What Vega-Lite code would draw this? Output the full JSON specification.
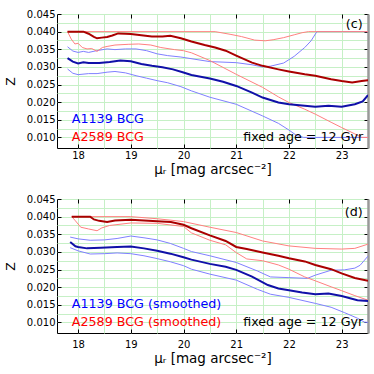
{
  "$schema": "https://vega.github.io/schema/vega-lite/v6.json",
  "padding": {"left": 4, "top": 8, "right": 5, "bottom": 5},
  "spacing": 16,
  "datasets": {
    "c": [
      {"s": "A1139 lo", "mu": 17.8, "Z": 0.0294}, {"s": "A1139 lo", "mu": 17.9, "Z": 0.0282}, {"s": "A1139 lo", "mu": 18.0, "Z": 0.0278}, {"s": "A1139 lo", "mu": 18.2, "Z": 0.0281}, {"s": "A1139 lo", "mu": 18.36, "Z": 0.0281}, {"s": "A1139 lo", "mu": 18.55, "Z": 0.0285}, {"s": "A1139 lo", "mu": 18.7, "Z": 0.0287}, {"s": "A1139 lo", "mu": 18.9, "Z": 0.0283}, {"s": "A1139 lo", "mu": 19.1, "Z": 0.0275}, {"s": "A1139 lo", "mu": 19.3, "Z": 0.0268}, {"s": "A1139 lo", "mu": 19.5, "Z": 0.0261}, {"s": "A1139 lo", "mu": 19.7, "Z": 0.0255}, {"s": "A1139 lo", "mu": 19.95, "Z": 0.0244}, {"s": "A1139 lo", "mu": 20.15, "Z": 0.0232}, {"s": "A1139 lo", "mu": 20.5, "Z": 0.0214}, {"s": "A1139 lo", "mu": 21.0, "Z": 0.0194}, {"s": "A1139 lo", "mu": 21.5, "Z": 0.0161}, {"s": "A1139 lo", "mu": 21.8, "Z": 0.0140}, {"s": "A1139 lo", "mu": 22.0, "Z": 0.0121}, {"s": "A1139 lo", "mu": 22.15, "Z": 0.0105}, {"s": "A1139 lo", "mu": 22.28, "Z": 0.0100}, {"s": "A1139 lo", "mu": 23.5, "Z": 0.0100},
      {"s": "A1139 hi", "mu": 17.8, "Z": 0.0357}, {"s": "A1139 hi", "mu": 17.9, "Z": 0.0345}, {"s": "A1139 hi", "mu": 18.0, "Z": 0.0341}, {"s": "A1139 hi", "mu": 18.1, "Z": 0.0344}, {"s": "A1139 hi", "mu": 18.2, "Z": 0.0341}, {"s": "A1139 hi", "mu": 18.35, "Z": 0.0346}, {"s": "A1139 hi", "mu": 18.55, "Z": 0.0351}, {"s": "A1139 hi", "mu": 18.7, "Z": 0.0349}, {"s": "A1139 hi", "mu": 18.9, "Z": 0.0351}, {"s": "A1139 hi", "mu": 19.1, "Z": 0.0351}, {"s": "A1139 hi", "mu": 19.3, "Z": 0.0346}, {"s": "A1139 hi", "mu": 19.5, "Z": 0.0337}, {"s": "A1139 hi", "mu": 19.7, "Z": 0.0332}, {"s": "A1139 hi", "mu": 19.95, "Z": 0.0328}, {"s": "A1139 hi", "mu": 20.2, "Z": 0.0322}, {"s": "A1139 hi", "mu": 20.5, "Z": 0.0315}, {"s": "A1139 hi", "mu": 21.0, "Z": 0.0312}, {"s": "A1139 hi", "mu": 21.3, "Z": 0.0306}, {"s": "A1139 hi", "mu": 21.5, "Z": 0.0300}, {"s": "A1139 hi", "mu": 21.65, "Z": 0.0302}, {"s": "A1139 hi", "mu": 21.9, "Z": 0.0311}, {"s": "A1139 hi", "mu": 22.1, "Z": 0.0330}, {"s": "A1139 hi", "mu": 22.3, "Z": 0.0355}, {"s": "A1139 hi", "mu": 22.42, "Z": 0.0374}, {"s": "A1139 hi", "mu": 22.53, "Z": 0.0400}, {"s": "A1139 hi", "mu": 23.5, "Z": 0.0400},
      {"s": "A2589 hi", "mu": 17.8, "Z": 0.0400}, {"s": "A2589 hi", "mu": 20.6, "Z": 0.0400}, {"s": "A2589 hi", "mu": 20.9, "Z": 0.0392}, {"s": "A2589 hi", "mu": 21.1, "Z": 0.0386}, {"s": "A2589 hi", "mu": 21.35, "Z": 0.0376}, {"s": "A2589 hi", "mu": 21.55, "Z": 0.0374}, {"s": "A2589 hi", "mu": 21.7, "Z": 0.0377}, {"s": "A2589 hi", "mu": 21.9, "Z": 0.0383}, {"s": "A2589 hi", "mu": 22.1, "Z": 0.0391}, {"s": "A2589 hi", "mu": 22.25, "Z": 0.0397}, {"s": "A2589 hi", "mu": 22.37, "Z": 0.0400}, {"s": "A2589 hi", "mu": 23.5, "Z": 0.0400},
      {"s": "A2589 lo", "mu": 17.8, "Z": 0.0400}, {"s": "A2589 lo", "mu": 17.87, "Z": 0.0379}, {"s": "A2589 lo", "mu": 17.94, "Z": 0.0365}, {"s": "A2589 lo", "mu": 18.0, "Z": 0.0367}, {"s": "A2589 lo", "mu": 18.08, "Z": 0.0355}, {"s": "A2589 lo", "mu": 18.17, "Z": 0.0351}, {"s": "A2589 lo", "mu": 18.26, "Z": 0.0352}, {"s": "A2589 lo", "mu": 18.36, "Z": 0.0344}, {"s": "A2589 lo", "mu": 18.46, "Z": 0.0355}, {"s": "A2589 lo", "mu": 18.55, "Z": 0.0358}, {"s": "A2589 lo", "mu": 18.7, "Z": 0.0362}, {"s": "A2589 lo", "mu": 18.95, "Z": 0.0364}, {"s": "A2589 lo", "mu": 19.15, "Z": 0.0365}, {"s": "A2589 lo", "mu": 19.38, "Z": 0.0362}, {"s": "A2589 lo", "mu": 19.57, "Z": 0.0355}, {"s": "A2589 lo", "mu": 19.83, "Z": 0.0349}, {"s": "A2589 lo", "mu": 20.0, "Z": 0.0346}, {"s": "A2589 lo", "mu": 20.15, "Z": 0.0340}, {"s": "A2589 lo", "mu": 20.5, "Z": 0.0318}, {"s": "A2589 lo", "mu": 21.0, "Z": 0.0279}, {"s": "A2589 lo", "mu": 21.5, "Z": 0.0242}, {"s": "A2589 lo", "mu": 21.8, "Z": 0.0215}, {"s": "A2589 lo", "mu": 22.0, "Z": 0.0199}, {"s": "A2589 lo", "mu": 22.3, "Z": 0.0180}, {"s": "A2589 lo", "mu": 22.5, "Z": 0.0166}, {"s": "A2589 lo", "mu": 22.8, "Z": 0.0143}, {"s": "A2589 lo", "mu": 23.0, "Z": 0.0128}, {"s": "A2589 lo", "mu": 23.25, "Z": 0.0110}, {"s": "A2589 lo", "mu": 23.38, "Z": 0.0100}, {"s": "A2589 lo", "mu": 23.5, "Z": 0.0100},
      {"s": "A1139", "mu": 17.8, "Z": 0.0325}, {"s": "A1139", "mu": 17.9, "Z": 0.0315}, {"s": "A1139", "mu": 18.0, "Z": 0.0310}, {"s": "A1139", "mu": 18.1, "Z": 0.0313}, {"s": "A1139", "mu": 18.2, "Z": 0.0311}, {"s": "A1139", "mu": 18.4, "Z": 0.0311}, {"s": "A1139", "mu": 18.6, "Z": 0.0314}, {"s": "A1139", "mu": 18.8, "Z": 0.0318}, {"s": "A1139", "mu": 19.0, "Z": 0.0316}, {"s": "A1139", "mu": 19.2, "Z": 0.0308}, {"s": "A1139", "mu": 19.4, "Z": 0.0303}, {"s": "A1139", "mu": 19.6, "Z": 0.0299}, {"s": "A1139", "mu": 19.8, "Z": 0.0293}, {"s": "A1139", "mu": 20.0, "Z": 0.0284}, {"s": "A1139", "mu": 20.15, "Z": 0.0277}, {"s": "A1139", "mu": 20.5, "Z": 0.0267}, {"s": "A1139", "mu": 20.75, "Z": 0.0258}, {"s": "A1139", "mu": 21.0, "Z": 0.0246}, {"s": "A1139", "mu": 21.3, "Z": 0.0227}, {"s": "A1139", "mu": 21.5, "Z": 0.0213}, {"s": "A1139", "mu": 21.8, "Z": 0.0199}, {"s": "A1139", "mu": 22.0, "Z": 0.0194}, {"s": "A1139", "mu": 22.3, "Z": 0.0190}, {"s": "A1139", "mu": 22.5, "Z": 0.0187}, {"s": "A1139", "mu": 22.75, "Z": 0.0190}, {"s": "A1139", "mu": 23.0, "Z": 0.0187}, {"s": "A1139", "mu": 23.25, "Z": 0.0194}, {"s": "A1139", "mu": 23.4, "Z": 0.0202}, {"s": "A1139", "mu": 23.5, "Z": 0.0220},
      {"s": "A2589", "mu": 17.8, "Z": 0.0400}, {"s": "A2589", "mu": 18.1, "Z": 0.0400}, {"s": "A2589", "mu": 18.2, "Z": 0.0394}, {"s": "A2589", "mu": 18.3, "Z": 0.0385}, {"s": "A2589", "mu": 18.36, "Z": 0.0381}, {"s": "A2589", "mu": 18.45, "Z": 0.0383}, {"s": "A2589", "mu": 18.55, "Z": 0.0385}, {"s": "A2589", "mu": 18.65, "Z": 0.0389}, {"s": "A2589", "mu": 18.76, "Z": 0.0395}, {"s": "A2589", "mu": 18.9, "Z": 0.0394}, {"s": "A2589", "mu": 19.0, "Z": 0.0393}, {"s": "A2589", "mu": 19.2, "Z": 0.0390}, {"s": "A2589", "mu": 19.4, "Z": 0.0386}, {"s": "A2589", "mu": 19.6, "Z": 0.0386}, {"s": "A2589", "mu": 19.75, "Z": 0.0388}, {"s": "A2589", "mu": 19.95, "Z": 0.0381}, {"s": "A2589", "mu": 20.15, "Z": 0.0372}, {"s": "A2589", "mu": 20.4, "Z": 0.0362}, {"s": "A2589", "mu": 20.6, "Z": 0.0355}, {"s": "A2589", "mu": 20.8, "Z": 0.0346}, {"s": "A2589", "mu": 21.0, "Z": 0.0332}, {"s": "A2589", "mu": 21.3, "Z": 0.0312}, {"s": "A2589", "mu": 21.5, "Z": 0.0303}, {"s": "A2589", "mu": 21.8, "Z": 0.0293}, {"s": "A2589", "mu": 22.0, "Z": 0.0287}, {"s": "A2589", "mu": 22.3, "Z": 0.0279}, {"s": "A2589", "mu": 22.5, "Z": 0.0275}, {"s": "A2589", "mu": 22.8, "Z": 0.0265}, {"s": "A2589", "mu": 23.0, "Z": 0.0260}, {"s": "A2589", "mu": 23.2, "Z": 0.0256}, {"s": "A2589", "mu": 23.38, "Z": 0.0260}, {"s": "A2589", "mu": 23.5, "Z": 0.0262}
    ],
    "d": [
      {"s": "A1139 lo", "mu": 17.85, "Z": 0.0312}, {"s": "A1139 lo", "mu": 18.0, "Z": 0.0303}, {"s": "A1139 lo", "mu": 18.23, "Z": 0.0294}, {"s": "A1139 lo", "mu": 18.5, "Z": 0.0295}, {"s": "A1139 lo", "mu": 18.74, "Z": 0.0297}, {"s": "A1139 lo", "mu": 19.0, "Z": 0.0295}, {"s": "A1139 lo", "mu": 19.25, "Z": 0.0289}, {"s": "A1139 lo", "mu": 19.5, "Z": 0.0281}, {"s": "A1139 lo", "mu": 19.75, "Z": 0.0272}, {"s": "A1139 lo", "mu": 20.0, "Z": 0.0261}, {"s": "A1139 lo", "mu": 20.15, "Z": 0.0251}, {"s": "A1139 lo", "mu": 20.5, "Z": 0.0237}, {"s": "A1139 lo", "mu": 21.0, "Z": 0.0220}, {"s": "A1139 lo", "mu": 21.4, "Z": 0.0194}, {"s": "A1139 lo", "mu": 21.65, "Z": 0.0180}, {"s": "A1139 lo", "mu": 22.0, "Z": 0.0171}, {"s": "A1139 lo", "mu": 22.5, "Z": 0.0154}, {"s": "A1139 lo", "mu": 22.8, "Z": 0.0143}, {"s": "A1139 lo", "mu": 23.05, "Z": 0.0128}, {"s": "A1139 lo", "mu": 23.3, "Z": 0.0112}, {"s": "A1139 lo", "mu": 23.43, "Z": 0.0101}, {"s": "A1139 lo", "mu": 23.5, "Z": 0.0100},
      {"s": "A1139 hi", "mu": 17.85, "Z": 0.0342}, {"s": "A1139 hi", "mu": 18.0, "Z": 0.0337}, {"s": "A1139 hi", "mu": 18.23, "Z": 0.0333}, {"s": "A1139 hi", "mu": 18.5, "Z": 0.0334}, {"s": "A1139 hi", "mu": 18.74, "Z": 0.0338}, {"s": "A1139 hi", "mu": 19.0, "Z": 0.0345}, {"s": "A1139 hi", "mu": 19.25, "Z": 0.0340}, {"s": "A1139 hi", "mu": 19.5, "Z": 0.0334}, {"s": "A1139 hi", "mu": 19.75, "Z": 0.0324}, {"s": "A1139 hi", "mu": 20.0, "Z": 0.0310}, {"s": "A1139 hi", "mu": 20.15, "Z": 0.0301}, {"s": "A1139 hi", "mu": 20.5, "Z": 0.0289}, {"s": "A1139 hi", "mu": 21.0, "Z": 0.0270}, {"s": "A1139 hi", "mu": 21.4, "Z": 0.0246}, {"s": "A1139 hi", "mu": 21.65, "Z": 0.0229}, {"s": "A1139 hi", "mu": 22.0, "Z": 0.0227}, {"s": "A1139 hi", "mu": 22.35, "Z": 0.0225}, {"s": "A1139 hi", "mu": 22.5, "Z": 0.0234}, {"s": "A1139 hi", "mu": 22.8, "Z": 0.0248}, {"s": "A1139 hi", "mu": 23.05, "Z": 0.0249}, {"s": "A1139 hi", "mu": 23.25, "Z": 0.0254}, {"s": "A1139 hi", "mu": 23.35, "Z": 0.0262}, {"s": "A1139 hi", "mu": 23.5, "Z": 0.0288},
      {"s": "A2589 hi", "mu": 17.88, "Z": 0.0400}, {"s": "A2589 hi", "mu": 19.0, "Z": 0.0400}, {"s": "A2589 hi", "mu": 19.5, "Z": 0.0394}, {"s": "A2589 hi", "mu": 20.0, "Z": 0.0386}, {"s": "A2589 hi", "mu": 20.5, "Z": 0.0370}, {"s": "A2589 hi", "mu": 21.0, "Z": 0.0355}, {"s": "A2589 hi", "mu": 21.5, "Z": 0.0331}, {"s": "A2589 hi", "mu": 22.0, "Z": 0.0317}, {"s": "A2589 hi", "mu": 22.5, "Z": 0.0310}, {"s": "A2589 hi", "mu": 23.0, "Z": 0.0308}, {"s": "A2589 hi", "mu": 23.25, "Z": 0.0310}, {"s": "A2589 hi", "mu": 23.5, "Z": 0.0322},
      {"s": "A2589 lo", "mu": 17.88, "Z": 0.0400}, {"s": "A2589 lo", "mu": 17.95, "Z": 0.0388}, {"s": "A2589 lo", "mu": 18.05, "Z": 0.0370}, {"s": "A2589 lo", "mu": 18.2, "Z": 0.0365}, {"s": "A2589 lo", "mu": 18.36, "Z": 0.0360}, {"s": "A2589 lo", "mu": 18.45, "Z": 0.0368}, {"s": "A2589 lo", "mu": 18.6, "Z": 0.0375}, {"s": "A2589 lo", "mu": 19.0, "Z": 0.0382}, {"s": "A2589 lo", "mu": 19.5, "Z": 0.0381}, {"s": "A2589 lo", "mu": 20.0, "Z": 0.0372}, {"s": "A2589 lo", "mu": 20.15, "Z": 0.0354}, {"s": "A2589 lo", "mu": 20.5, "Z": 0.0333}, {"s": "A2589 lo", "mu": 20.8, "Z": 0.0320}, {"s": "A2589 lo", "mu": 21.0, "Z": 0.0298}, {"s": "A2589 lo", "mu": 21.2, "Z": 0.0280}, {"s": "A2589 lo", "mu": 21.5, "Z": 0.0275}, {"s": "A2589 lo", "mu": 21.8, "Z": 0.0263}, {"s": "A2589 lo", "mu": 22.0, "Z": 0.0251}, {"s": "A2589 lo", "mu": 22.3, "Z": 0.0229}, {"s": "A2589 lo", "mu": 22.5, "Z": 0.0218}, {"s": "A2589 lo", "mu": 22.8, "Z": 0.0201}, {"s": "A2589 lo", "mu": 23.0, "Z": 0.0190}, {"s": "A2589 lo", "mu": 23.25, "Z": 0.0176}, {"s": "A2589 lo", "mu": 23.5, "Z": 0.0163},
      {"s": "A1139", "mu": 17.85, "Z": 0.0328}, {"s": "A1139", "mu": 17.95, "Z": 0.0316}, {"s": "A1139", "mu": 18.0, "Z": 0.0314}, {"s": "A1139", "mu": 18.17, "Z": 0.0310}, {"s": "A1139", "mu": 18.43, "Z": 0.0312}, {"s": "A1139", "mu": 18.74, "Z": 0.0314}, {"s": "A1139", "mu": 19.0, "Z": 0.0315}, {"s": "A1139", "mu": 19.25, "Z": 0.0310}, {"s": "A1139", "mu": 19.5, "Z": 0.0303}, {"s": "A1139", "mu": 19.75, "Z": 0.0295}, {"s": "A1139", "mu": 20.0, "Z": 0.0285}, {"s": "A1139", "mu": 20.15, "Z": 0.0278}, {"s": "A1139", "mu": 20.5, "Z": 0.0266}, {"s": "A1139", "mu": 20.8, "Z": 0.0258}, {"s": "A1139", "mu": 21.0, "Z": 0.0249}, {"s": "A1139", "mu": 21.3, "Z": 0.0230}, {"s": "A1139", "mu": 21.6, "Z": 0.0206}, {"s": "A1139", "mu": 21.8, "Z": 0.0196}, {"s": "A1139", "mu": 22.0, "Z": 0.0191}, {"s": "A1139", "mu": 22.25, "Z": 0.0185}, {"s": "A1139", "mu": 22.5, "Z": 0.0180}, {"s": "A1139", "mu": 22.75, "Z": 0.0182}, {"s": "A1139", "mu": 23.0, "Z": 0.0175}, {"s": "A1139", "mu": 23.3, "Z": 0.0163}, {"s": "A1139", "mu": 23.5, "Z": 0.0161},
      {"s": "A2589", "mu": 17.88, "Z": 0.0400}, {"s": "A2589", "mu": 18.23, "Z": 0.0400}, {"s": "A2589", "mu": 18.3, "Z": 0.0392}, {"s": "A2589", "mu": 18.4, "Z": 0.0388}, {"s": "A2589", "mu": 18.55, "Z": 0.0385}, {"s": "A2589", "mu": 18.7, "Z": 0.0389}, {"s": "A2589", "mu": 19.0, "Z": 0.0391}, {"s": "A2589", "mu": 19.25, "Z": 0.0389}, {"s": "A2589", "mu": 19.5, "Z": 0.0387}, {"s": "A2589", "mu": 19.76, "Z": 0.0385}, {"s": "A2589", "mu": 20.0, "Z": 0.0377}, {"s": "A2589", "mu": 20.15, "Z": 0.0367}, {"s": "A2589", "mu": 20.5, "Z": 0.0347}, {"s": "A2589", "mu": 20.8, "Z": 0.0331}, {"s": "A2589", "mu": 21.0, "Z": 0.0314}, {"s": "A2589", "mu": 21.2, "Z": 0.0308}, {"s": "A2589", "mu": 21.5, "Z": 0.0298}, {"s": "A2589", "mu": 21.8, "Z": 0.0289}, {"s": "A2589", "mu": 22.0, "Z": 0.0282}, {"s": "A2589", "mu": 22.3, "Z": 0.0273}, {"s": "A2589", "mu": 22.5, "Z": 0.0263}, {"s": "A2589", "mu": 22.8, "Z": 0.0251}, {"s": "A2589", "mu": 23.0, "Z": 0.0239}, {"s": "A2589", "mu": 23.25, "Z": 0.0226}, {"s": "A2589", "mu": 23.5, "Z": 0.0218}
    ]
  },
  "vconcat": [
    {
      "width": 311, "height": 134,
      "layer": [
        {
          "data": {"name": "c"},
          "transform": [{"filter": {"field": "s", "oneOf": ["A1139 lo", "A1139 hi", "A2589 lo", "A2589 hi"]}}],
          "mark": {"type": "line", "strokeWidth": 1, "clip": true},
          "encoding": {
            "x": {"field": "mu", "type": "quantitative", "scale": {"domain": [17.6, 23.5], "nice": false, "zero": false},
              "axis": {"orient": "bottom", "title": "μᵣ [mag arcsec⁻²]", "labelPadding": 6, "titlePadding": 2.5, "values": [18, 18.5, 19, 19.5, 20, 20.5, 21, 21.5, 22, 22.5, 23, 23.5], "labelExpr": "datum.value % 1 === 0 ? format(datum.value, 'd') : ''", "tickOpacity": {"condition": {"test": "datum.value % 1 === 0", "value": 1}, "value": 0}, "grid": true}},
            "y": {"field": "Z", "type": "quantitative", "scale": {"domain": [0.007, 0.045], "nice": false, "zero": false},
              "axis": {"orient": "left", "title": "Z", "values": [0.01, 0.0125, 0.015, 0.0175, 0.02, 0.0225, 0.025, 0.0275, 0.03, 0.0325, 0.035, 0.0375, 0.04, 0.0425, 0.045], "labelExpr": "round(datum.value * 10000) % 50 === 0 ? format(datum.value, '.3f') : ''", "tickOpacity": {"condition": {"test": "round(datum.value * 10000) % 50 === 0", "value": 1}, "value": 0}, "grid": true}},
            "color": {"field": "s", "type": "nominal", "legend": null, "scale": {"domain": ["A1139", "A1139 lo", "A1139 hi", "A2589", "A2589 lo", "A2589 hi"], "range": ["#1010a8", "#8080ff", "#8080ff", "#aa0000", "#ff8080", "#ff8080"]}}
          }
        },
        {
          "data": {"name": "c"},
          "transform": [{"filter": {"field": "s", "oneOf": ["A1139", "A2589"]}}],
          "mark": {"type": "line", "strokeWidth": 2, "clip": true},
          "encoding": {
            "x": {"field": "mu", "type": "quantitative", "scale": {"domain": [17.6, 23.5], "nice": false, "zero": false},
              "axis": {"orient": "top", "title": null, "labels": false, "grid": false, "domain": false, "values": [18, 19, 20, 21, 22, 23]}},
            "y": {"field": "Z", "type": "quantitative", "scale": {"domain": [0.007, 0.045], "nice": false, "zero": false},
              "axis": {"orient": "right", "title": null, "labels": false, "grid": false, "domain": true, "domainColor": "#999999", "domainWidth": 2.5, "values": [0.01, 0.015, 0.02, 0.025, 0.03, 0.035, 0.04, 0.045]}},
            "color": {"field": "s", "type": "nominal", "legend": null, "scale": {"domain": ["A1139", "A1139 lo", "A1139 hi", "A2589", "A2589 lo", "A2589 hi"], "range": ["#1010a8", "#8080ff", "#8080ff", "#aa0000", "#ff8080", "#ff8080"]}}
          }
        },
        {
          "data": {"values": [{}]},
          "mark": {"type": "text", "text": "A1139 BCG", "align": "left", "baseline": "alphabetic", "fontSize": 12.7, "color": "#0000ff"},
          "encoding": {"x": {"datum": 17.88, "type": "quantitative", "axis": null}, "y": {"datum": 0.0140, "type": "quantitative", "axis": null}}
        },
        {
          "data": {"values": [{}]},
          "mark": {"type": "text", "text": "A2589 BCG", "align": "left", "baseline": "alphabetic", "fontSize": 12.7, "color": "#ff0000"},
          "encoding": {"x": {"datum": 17.88, "type": "quantitative", "axis": null}, "y": {"datum": 0.0089, "type": "quantitative", "axis": null}}
        },
        {
          "data": {"values": [{}]},
          "mark": {"type": "text", "text": "fixed age = 12 Gyr", "align": "right", "baseline": "alphabetic", "fontSize": 12.7, "color": "#000000"},
          "encoding": {"x": {"datum": 23.41, "type": "quantitative", "axis": null}, "y": {"datum": 0.0089, "type": "quantitative", "axis": null}}
        },
        {
          "data": {"values": [{}]},
          "mark": {"type": "text", "text": "(c)", "align": "right", "baseline": "alphabetic", "fontSize": 12.7, "color": "#000000"},
          "encoding": {"x": {"datum": 23.4, "type": "quantitative", "axis": null}, "y": {"datum": 0.0410, "type": "quantitative", "axis": null}}
        }
      ],
      "resolve": {"axis": {"x": "independent", "y": "independent"}}
    },
    {
      "width": 311, "height": 134,
      "layer": [
        {
          "data": {"name": "d"},
          "transform": [{"filter": {"field": "s", "oneOf": ["A1139 lo", "A1139 hi", "A2589 lo", "A2589 hi"]}}],
          "mark": {"type": "line", "strokeWidth": 1, "clip": true},
          "encoding": {
            "x": {"field": "mu", "type": "quantitative", "scale": {"domain": [17.6, 23.5], "nice": false, "zero": false},
              "axis": {"orient": "bottom", "title": "μᵣ [mag arcsec⁻²]", "labelPadding": 10, "titlePadding": 2, "values": [18, 18.5, 19, 19.5, 20, 20.5, 21, 21.5, 22, 22.5, 23, 23.5], "labelExpr": "datum.value % 1 === 0 ? format(datum.value, 'd') : ''", "tickOpacity": {"condition": {"test": "datum.value % 1 === 0", "value": 1}, "value": 0}, "grid": true}},
            "y": {"field": "Z", "type": "quantitative", "scale": {"domain": [0.007, 0.045], "nice": false, "zero": false},
              "axis": {"orient": "left", "title": "Z", "values": [0.01, 0.0125, 0.015, 0.0175, 0.02, 0.0225, 0.025, 0.0275, 0.03, 0.0325, 0.035, 0.0375, 0.04, 0.0425, 0.045], "labelExpr": "round(datum.value * 10000) % 50 === 0 ? format(datum.value, '.3f') : ''", "tickOpacity": {"condition": {"test": "round(datum.value * 10000) % 50 === 0", "value": 1}, "value": 0}, "grid": true}},
            "color": {"field": "s", "type": "nominal", "legend": null, "scale": {"domain": ["A1139", "A1139 lo", "A1139 hi", "A2589", "A2589 lo", "A2589 hi"], "range": ["#1010a8", "#8080ff", "#8080ff", "#aa0000", "#ff8080", "#ff8080"]}}
          }
        },
        {
          "data": {"name": "d"},
          "transform": [{"filter": {"field": "s", "oneOf": ["A1139", "A2589"]}}],
          "mark": {"type": "line", "strokeWidth": 2, "clip": true},
          "encoding": {
            "x": {"field": "mu", "type": "quantitative", "scale": {"domain": [17.6, 23.5], "nice": false, "zero": false},
              "axis": {"orient": "top", "title": null, "labels": false, "grid": false, "domain": false, "values": [18, 19, 20, 21, 22, 23]}},
            "y": {"field": "Z", "type": "quantitative", "scale": {"domain": [0.007, 0.045], "nice": false, "zero": false},
              "axis": {"orient": "right", "title": null, "labels": false, "grid": false, "domain": true, "domainColor": "#999999", "domainWidth": 2.5, "values": [0.01, 0.015, 0.02, 0.025, 0.03, 0.035, 0.04, 0.045]}},
            "color": {"field": "s", "type": "nominal", "legend": null, "scale": {"domain": ["A1139", "A1139 lo", "A1139 hi", "A2589", "A2589 lo", "A2589 hi"], "range": ["#1010a8", "#8080ff", "#8080ff", "#aa0000", "#ff8080", "#ff8080"]}}
          }
        },
        {
          "data": {"values": [{}]},
          "mark": {"type": "text", "text": "A1139 BCG (smoothed)", "align": "left", "baseline": "alphabetic", "fontSize": 12.7, "color": "#0000ff"},
          "encoding": {"x": {"datum": 17.88, "type": "quantitative", "axis": null}, "y": {"datum": 0.0140, "type": "quantitative", "axis": null}}
        },
        {
          "data": {"values": [{}]},
          "mark": {"type": "text", "text": "A2589 BCG (smoothed)", "align": "left", "baseline": "alphabetic", "fontSize": 12.7, "color": "#ff0000"},
          "encoding": {"x": {"datum": 17.88, "type": "quantitative", "axis": null}, "y": {"datum": 0.0090, "type": "quantitative", "axis": null}}
        },
        {
          "data": {"values": [{}]},
          "mark": {"type": "text", "text": "fixed age = 12 Gyr", "align": "right", "baseline": "alphabetic", "fontSize": 12.7, "color": "#000000"},
          "encoding": {"x": {"datum": 23.41, "type": "quantitative", "axis": null}, "y": {"datum": 0.0090, "type": "quantitative", "axis": null}}
        },
        {
          "data": {"values": [{}]},
          "mark": {"type": "text", "text": "(d)", "align": "right", "baseline": "alphabetic", "fontSize": 12.7, "color": "#000000"},
          "encoding": {"x": {"datum": 23.4, "type": "quantitative", "axis": null}, "y": {"datum": 0.0401, "type": "quantitative", "axis": null}}
        }
      ],
      "resolve": {"axis": {"x": "independent", "y": "independent"}}
    }
  ],
  "config": {
    "font": "DejaVu Sans",
    "view": {"stroke": "#000000", "strokeWidth": 1},
    "axis": {
      "domain": false,
      "gridColor": "#c6f0c6",
      "gridWidth": 1,
      "gridOpacity": 1,
      "tickColor": "#000000",
      "tickSize": -4,
      "tickWidth": 1,
      "labelColor": "#000000",
      "labelFont": "DejaVu Sans",
      "labelFontSize": 10,
      "labelPadding": 6,
      "labelOverlap": false,
      "labelFlush": false,
      "labelBound": false,
      "titleFont": "DejaVu Sans",
      "titleFontSize": 13.5,
      "titleFontWeight": "normal",
      "titleColor": "#000000",
      "titlePadding": 2
    },
    "axisLeft": {"titlePadding": 8.5, "titleFontSize": 12.5}
  }
}
